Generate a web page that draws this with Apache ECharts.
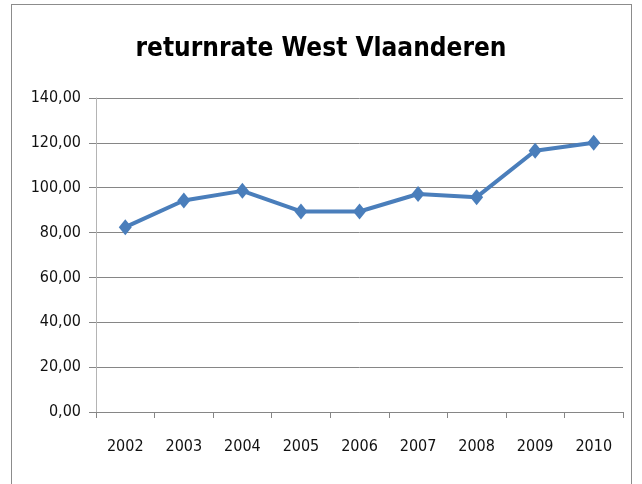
<!DOCTYPE html>
<html>
<head>
<meta charset="utf-8">
<script src="https://cdn.jsdelivr.net/npm/echarts@6/dist/echarts.min.js"></script>
<style>
  html, body { margin: 0; padding: 0; background: #fff; }
  #frame { position: absolute; left: 11px; top: 4px; width: 621px; height: 490px; border: 1px solid #8c8c8c; box-sizing: border-box; }
  #chart { position: absolute; left: 0; top: 0; width: 642px; height: 484px; }
</style>
</head>
<body>
<div id="frame"></div>
<div id="chart"></div>
<script>
var years = ['2002', '2003', '2004', '2005', '2006', '2007', '2008', '2009', '2010'];
var returnRate = [82.4, 94.3, 98.6, 89.4, 89.4, 97.2, 95.8, 116.5, 120.0];

var narrowFont = "'Liberation Sans Narrow', 'DejaVu Sans Condensed', 'Open Sans'";

var chart = echarts.init(document.getElementById('chart'));

chart.setOption({
    backgroundColor: 'transparent',
    animation: false,
    title: {
        text: 'returnrate West Vlaanderen',
        left: 'center',
        top: 31,
        textStyle: {
            fontFamily: narrowFont,
            fontWeight: 'bold',
            fontSize: 26,
            color: '#000'
        }
    },
    grid: {
        left: 96,
        right: 19,
        top: 98,
        bottom: 72
    },
    xAxis: {
        type: 'category',
        data: years,
        boundaryGap: true,
        axisLine: { lineStyle: { color: '#868686', width: 1 } },
        axisTick: { show: true, alignWithLabel: false, length: 6, lineStyle: { color: '#868686' } },
        axisLabel: {
            margin: 27,
            color: '#111',
            fontFamily: narrowFont,
            fontSize: 16
        }
    },
    yAxis: {
        type: 'value',
        min: 0,
        max: 140,
        interval: 20,
        axisLine: { show: true, lineStyle: { color: '#b4b4b4', width: 1 } },
        axisTick: { show: true, inside: false, length: 7, lineStyle: { color: '#868686' } },
        splitLine: { show: true, lineStyle: { color: '#868686', width: 1 } },
        axisLabel: {
            margin: 15,
            color: '#111',
            fontFamily: narrowFont,
            fontSize: 16,
            formatter: function (v) {
                return v.toFixed(2).replace('.', ',');
            }
        }
    },
    series: [
        {
            name: 'returnrate',
            type: 'line',
            data: returnRate,
            symbol: 'diamond',
            symbolSize: [13, 16],
            lineStyle: { color: '#4a7ebb', width: 4 },
            itemStyle: { color: '#4a7ebb' }
        }
    ]
});
</script>
</body>
</html>
